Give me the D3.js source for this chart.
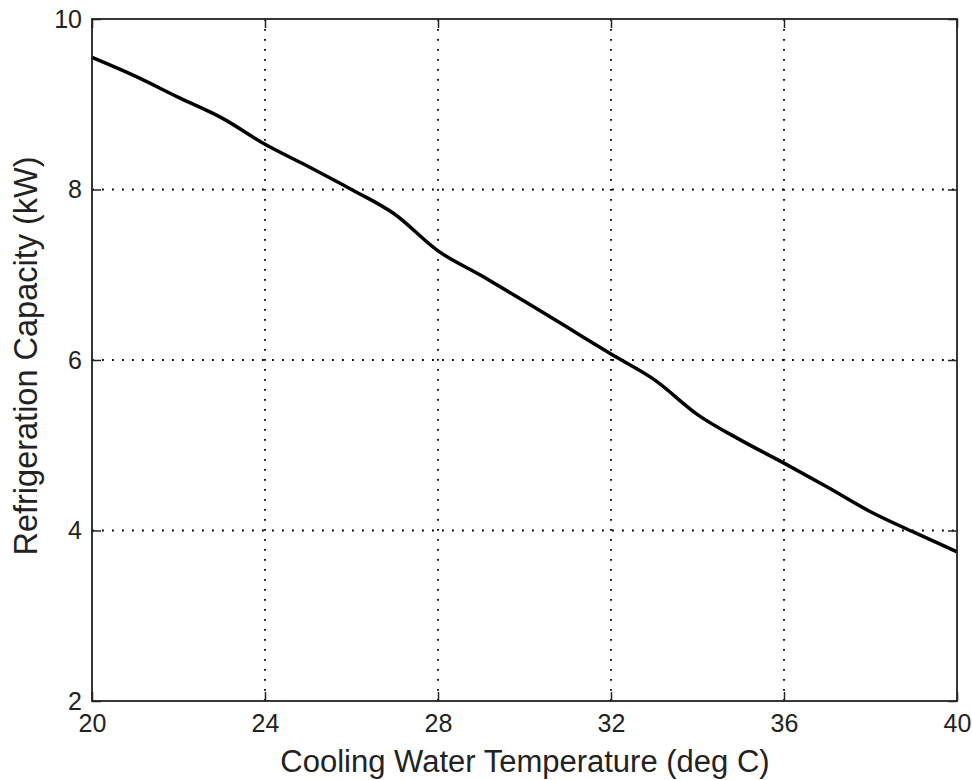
<!DOCTYPE html>
<html>
<head>
<meta charset="utf-8">
<script src="https://cdn.jsdelivr.net/npm/d3@7"></script>
<style>
  body { margin: 0; background: #fff; }
  svg { display: block; }
  text { font-family: "Liberation Sans", Arial, sans-serif; fill: #222; }
</style>
</head>
<body>
<div id="chart"></div>
<script>
// temperatura del agua de enfriamiento (deg C) y capacidad (kW)
const temps = [20, 21, 22, 23, 24, 25, 26, 27, 28, 29, 30, 31, 32, 33, 34, 35, 36, 37, 38, 39, 40];
const capacidad = [9.55, 9.33, 9.08, 8.84, 8.53, 8.27, 8.00, 7.71, 7.28, 6.99, 6.69, 6.38, 6.07, 5.77, 5.36, 5.06, 4.79, 4.51, 4.22, 3.98, 3.75];
const xTicks = [20, 24, 28, 32, 36, 40];
const yTicks = [2, 4, 6, 8, 10];
const xLabel = "Cooling Water Temperature (deg C)";
const yLabel = "Refrigeration Capacity (kW)";

const W = 972, H = 780;
const margin = { top: 19, right: 15, bottom: 79, left: 92 };
const width = W - margin.left - margin.right;
const height = H - margin.top - margin.bottom;

const svg = d3.select("#chart").append("svg")
    .attr("width", W)
    .attr("height", H);

const g = svg.append("g")
    .attr("transform", `translate(${margin.left},${margin.top})`);

const x = d3.scaleLinear().domain([20, 40]).range([0, width]);
const y = d3.scaleLinear().domain([2, 10]).range([height, 0]);

// rejilla punteada
g.selectAll(".gx")
    .data(xTicks.filter(d => d > 20 && d < 40))
    .enter().append("line")
    .attr("x1", d => x(d)).attr("x2", d => x(d))
    .attr("y1", 0).attr("y2", height)
    .attr("stroke", "#000")
    .attr("stroke-width", 1.8)
    .attr("stroke-dasharray", "1.8,8.2");

g.selectAll(".gy")
    .data(yTicks.filter(d => d > 2 && d < 10))
    .enter().append("line")
    .attr("x1", 0).attr("x2", width)
    .attr("y1", d => y(d)).attr("y2", d => y(d))
    .attr("stroke", "#000")
    .attr("stroke-width", 1.8)
    .attr("stroke-dasharray", "1.8,8.2");

// la curva
const line = d3.line()
    .x((d, i) => x(temps[i]))
    .y(d => y(d))
    .curve(d3.curveMonotoneX);

g.append("path")
    .datum(capacidad)
    .attr("fill", "none")
    .attr("stroke", "#000")
    .attr("stroke-width", 3.5)
    .attr("stroke-linejoin", "round")
    .attr("d", line);

// ejes estilo matlab, marcas hacia adentro
const tk = 9;
const axisStyle = sel => {
    sel.select(".domain").remove();
    sel.selectAll("line").attr("stroke", "#222").attr("stroke-width", 1.5);
    sel.selectAll("text").style("font-size", "25px").attr("fill", "#222");
};

g.append("g")
    .attr("transform", `translate(0,${height})`)
    .call(d3.axisBottom(x).tickValues(xTicks).tickSize(-tk).tickPadding(13))
    .call(axisStyle);

g.append("g")
    .call(d3.axisTop(x).tickValues(xTicks).tickSize(-tk).tickFormat(""))
    .call(axisStyle);

g.append("g")
    .call(d3.axisLeft(y).tickValues(yTicks).tickSize(-tk).tickPadding(10))
    .call(axisStyle);

g.append("g")
    .attr("transform", `translate(${width},0)`)
    .call(d3.axisRight(y).tickValues(yTicks).tickSize(-tk).tickFormat(""))
    .call(axisStyle);

g.append("rect")
    .attr("width", width).attr("height", height)
    .attr("fill", "none")
    .attr("stroke", "#222")
    .attr("stroke-width", 1.8);

svg.append("text")
    .attr("x", 525)
    .attr("y", 772)
    .attr("text-anchor", "middle")
    .style("font-size", "31px")
    .text(xLabel);

svg.append("text")
    .attr("transform", `translate(37,356) rotate(-90)`)
    .attr("text-anchor", "middle")
    .style("font-size", "32.5px")
    .text(yLabel);
</script>
</body>
</html>
